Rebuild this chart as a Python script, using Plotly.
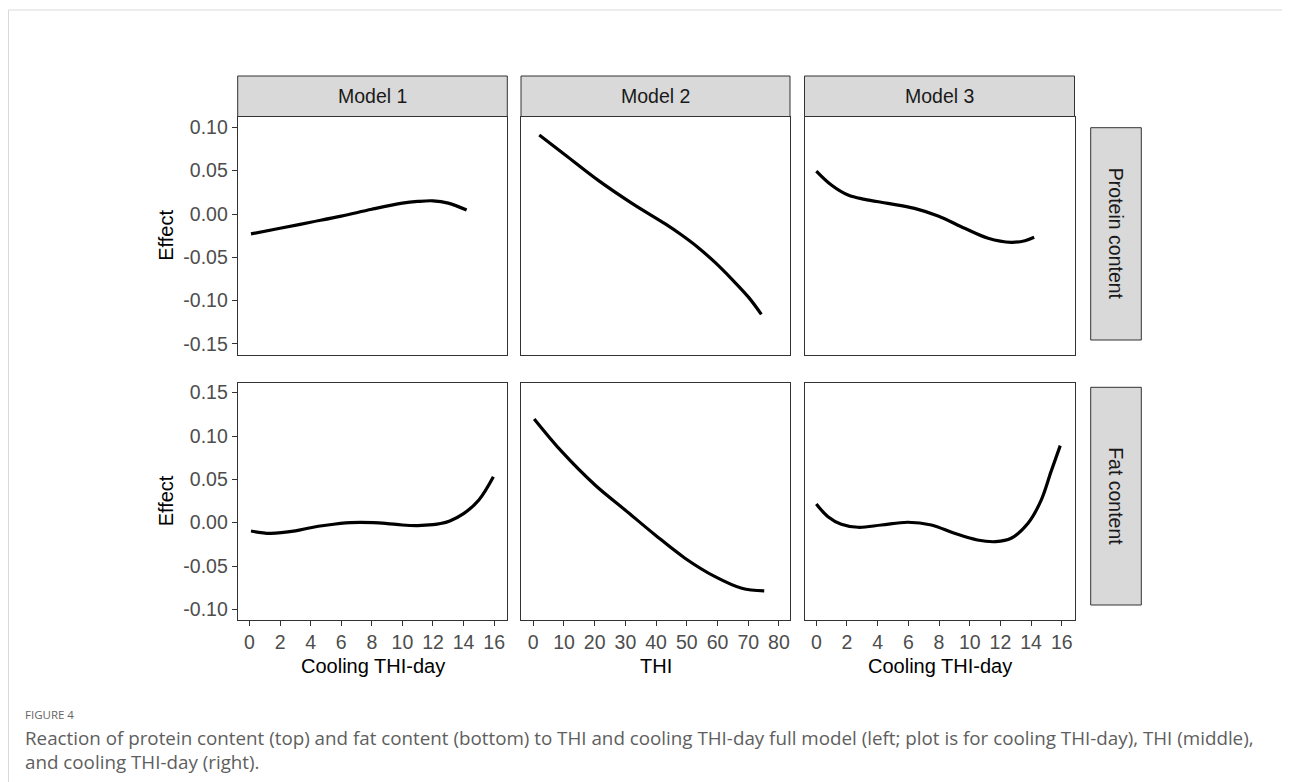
import plotly.graph_objects as go

# ---------------- data ----------------
models = ["Model 1", "Model 2", "Model 3"]
traits = ["Protein content", "Fat content"]
x_titles = ["Cooling THI-day", "THI", "Cooling THI-day"]

m1_protein_x = [0.1, 2, 4, 6, 8, 10, 11, 12, 13, 14.2]
m1_protein_y = [-0.023, -0.0165, -0.0095, -0.0025, 0.0055, 0.0125, 0.0145, 0.0152, 0.0125, 0.0046]

m2_protein_x = [1.95, 10.42, 21.28, 32.14, 43.0, 48.43, 53.85, 59.28, 64.71, 70.14, 74.27]
m2_protein_y = [0.0912, 0.0681, 0.0385, 0.0123, -0.0115, -0.0246, -0.0392, -0.0562, -0.0754, -0.0962, -0.1158]

m3_protein_x = [0, 0.98, 2.07, 3.15, 4.67, 6.4, 7.94, 9.67, 11.2, 12.7, 13.6, 14.2]
m3_protein_y = [0.0496, 0.0335, 0.0219, 0.0169, 0.0123, 0.0065, -0.0023, -0.0165, -0.028, -0.0327, -0.0308, -0.0269]

m1_fat_x = [0.1, 1.35, 3, 4, 5, 6.6, 8.1, 9, 10, 11, 12, 12.5, 13.1, 14, 15, 15.95]
m1_fat_y = [-0.0096, -0.0123, -0.0095, -0.0058, -0.003, 0.0, 0.0, -0.001, -0.0027, -0.0033, -0.0023, -0.001, 0.002, 0.0104, 0.0262, 0.053]

m2_fat_x = [0.3, 9.3, 20.1, 29.9, 39.7, 49.4, 59.2, 67.9, 75.2]
m2_fat_y = [0.1197, 0.0819, 0.0435, 0.0147, -0.0142, -0.041, -0.0623, -0.0757, -0.0788]

m3_fat_x = [0, 0.76, 1.63, 2.72, 4.24, 5.97, 7.5, 9.0, 10.5, 11.7, 12.7, 13.8, 14.66, 15.3, 15.9]
m3_fat_y = [0.0216, 0.0069, -0.0018, -0.0053, -0.0027, 0.0005, -0.0027, -0.0122, -0.02, -0.0219, -0.018, -0.0007, 0.026, 0.0589, 0.0889]

y_ticks_protein = [-0.15, -0.10, -0.05, 0.00, 0.05, 0.10]
y_labels_protein = ["-0.15", "-0.10", "-0.05", "0.00", "0.05", "0.10"]
y_ticks_fat = [-0.10, -0.05, 0.00, 0.05, 0.10, 0.15]
y_labels_fat = ["-0.10", "-0.05", "0.00", "0.05", "0.10", "0.15"]
x_ticks_cool = [0, 2, 4, 6, 8, 10, 12, 14, 16]
x_ticks_thi = [0, 10, 20, 30, 40, 50, 60, 70, 80]

caption_head = "FIGURE 4"
caption_text = ("Reaction of protein content (top) and fat content (bottom) to THI and cooling THI-day full model "
                "(left; plot is for cooling THI-day), THI (middle),<br>and cooling THI-day (right).")

# ---------------- layout helpers ----------------
OFF = 8  # the page body margin
W, H = 1290 - OFF, 782 - OFF
def fx(p):
    return (p - OFF) / W
def fy(p):
    return 1 - (p - OFF) / H

col_px = [(237.7, 507.3), (521.0, 790.0), (804.5, 1074.5)]
row_px = [(116.5, 355.0), (382.7, 620.0)]
x_ranges = [[-0.77, 16.86], [-4.0, 83.6], [-0.77, 16.83]]
y_ranges = [[-0.1627, 0.1125], [-0.1123, 0.1615]]
x_ticks = [x_ticks_cool, x_ticks_thi, x_ticks_cool]
y_ticks = [(y_ticks_protein, y_labels_protein), (y_ticks_fat, y_labels_fat)]

series = [
    [(m1_protein_x, m1_protein_y), (m2_protein_x, m2_protein_y), (m3_protein_x, m3_protein_y)],
    [(m1_fat_x, m1_fat_y), (m2_fat_x, m2_fat_y), (m3_fat_x, m3_fat_y)],
]

FONT = "Liberation Sans, Arial, sans-serif"
TICKFONT = dict(family=FONT, size=19.5, color="#4d4d4d")

fig = go.Figure()
layout = dict(
    width=W, height=H,
    margin=dict(l=0, r=0, t=0, b=0),
    paper_bgcolor="white", plot_bgcolor="white",
    showlegend=False,
)

for r in range(2):
    for c in range(3):
        i = r * 3 + c + 1
        xs, ys = series[r][c]
        fig.add_trace(go.Scatter(
            x=xs, y=ys, mode="lines",
            line=dict(color="black", width=3.2, shape="spline", smoothing=1.0),
            xaxis=f"x{i}", yaxis=f"y{i}", hoverinfo="skip", showlegend=False,
        ))
        xa = dict(
            domain=[fx(col_px[c][0]), fx(col_px[c][1])],
            range=x_ranges[c], anchor=f"y{i}",
            showgrid=False, zeroline=False,
            showline=True, mirror=True, linecolor="#333333", linewidth=1,
            tickvals=x_ticks[c], ticktext=[str(v) for v in x_ticks[c]],
            tickfont=TICKFONT, ticklen=5, tickwidth=1, tickcolor="#333333",
            ticks="outside" if r == 1 else "",
            showticklabels=(r == 1),
            fixedrange=True,
        )
        ya = dict(
            domain=[fy(row_px[r][1]), fy(row_px[r][0])],
            range=y_ranges[r], anchor=f"x{i}",
            showgrid=False, zeroline=False,
            showline=True, mirror=True, linecolor="#333333", linewidth=1,
            tickvals=y_ticks[r][0], ticktext=y_ticks[r][1],
            tickfont=TICKFONT, ticklen=5, tickwidth=1, tickcolor="#333333",
            ticks="outside" if c == 0 else "",
            showticklabels=(c == 0),
            fixedrange=True,
        )
        layout[f"xaxis{i}"] = xa
        layout[f"yaxis{i}"] = ya

shapes = []
annotations = []

# page frame (light grey)
shapes.append(dict(type="rect", xref="paper", yref="paper",
                   x0=fx(8.5), x1=fx(1283), y0=-0.2, y1=fy(10),
                   line=dict(color="#d9d9d9", width=1), fillcolor="rgba(0,0,0,0)", layer="below"))

# top strips
for c in range(3):
    shapes.append(dict(type="rect", xref="paper", yref="paper",
                       x0=fx(col_px[c][0]), x1=fx(col_px[c][1]), y0=fy(116.5), y1=fy(76),
                       line=dict(color="#333333", width=1), fillcolor="#d9d9d9"))
    annotations.append(dict(xref="paper", yref="paper", x=fx((col_px[c][0] + col_px[c][1]) / 2), y=fy(96),
                            text=models[c], showarrow=False, xanchor="center", yanchor="middle",
                            font=dict(family=FONT, size=19.5, color="#1a1a1a")))
    # x axis titles
    annotations.append(dict(xref="paper", yref="paper", x=fx((col_px[c][0] + col_px[c][1]) / 2), y=fy(666),
                            text=x_titles[c], showarrow=False, xanchor="center", yanchor="middle",
                            font=dict(family=FONT, size=20, color="black")))

# right strips
strip_rows = [(127.7, 340.0), (387.3, 605.0)]
for r in range(2):
    shapes.append(dict(type="rect", xref="paper", yref="paper",
                       x0=fx(1090.7), x1=fx(1141.3), y0=fy(strip_rows[r][1]), y1=fy(strip_rows[r][0]),
                       line=dict(color="#333333", width=1), fillcolor="#d9d9d9"))
    annotations.append(dict(xref="paper", yref="paper", x=fx(1116), y=fy((strip_rows[r][0] + strip_rows[r][1]) / 2),
                            text=traits[r], showarrow=False, textangle=90, xanchor="center", yanchor="middle",
                            font=dict(family=FONT, size=19.5, color="#1a1a1a")))
    # y axis titles
    annotations.append(dict(xref="paper", yref="paper", x=fx(166), y=fy((row_px[r][0] + row_px[r][1]) / 2),
                            text="Effect", showarrow=False, textangle=-90, xanchor="center", yanchor="middle",
                            font=dict(family=FONT, size=20, color="black")))

# caption
annotations.append(dict(xref="paper", yref="paper", x=fx(23), y=fy(714), text=caption_head,
                        showarrow=False, xanchor="left", yanchor="middle",
                        font=dict(family="Open Sans, sans-serif", size=11.5, color="#666666")))
annotations.append(dict(xref="paper", yref="paper", x=fx(23), y=fy(749.5), text=caption_text,
                        showarrow=False, xanchor="left", yanchor="middle", align="left",
                        font=dict(family="Open Sans, sans-serif", size=18.8, color="#5e5e5e")))

layout["shapes"] = shapes
layout["annotations"] = annotations
fig.update_layout(**layout)

fig.write_html("out.html")
